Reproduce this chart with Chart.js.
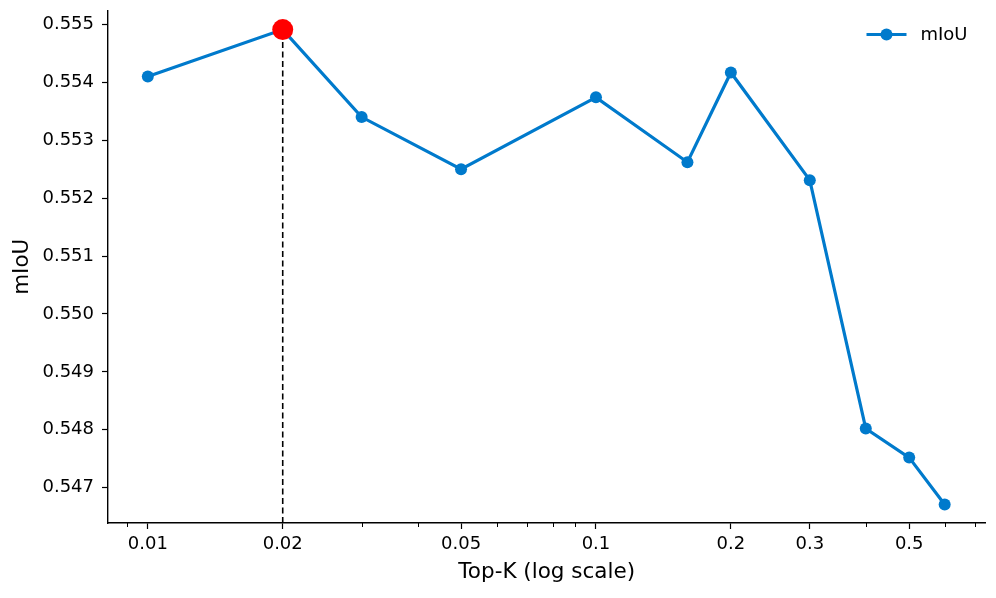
<!DOCTYPE html>
<html>
<head>
<meta charset="utf-8">
<script src="https://cdn.jsdelivr.net/npm/chart.js@4/dist/chart.umd.min.js"></script>
<style>
  html, body { margin: 0; padding: 0; background: #ffffff; }
  canvas { display: block; }
</style>
</head>
<body>
<canvas id="topkChart" width="996" height="598"></canvas>
<script>

// data
var topK = [0.01, 0.02, 0.03, 0.05, 0.1, 0.16, 0.2, 0.3, 0.4, 0.5, 0.6];
var mIoU = [0.55410, 0.55491, 0.55340, 0.55250, 0.55374, 0.55262, 0.55417, 0.55231, 0.54802, 0.54752, 0.54671];

var xTickLabels = [0.01, 0.02, 0.05, 0.1, 0.2, 0.3, 0.5];
var xMinorTicks = [0.009, 0.03, 0.04, 0.06, 0.07, 0.08, 0.09, 0.4, 0.6, 0.7];
var yTicks = [0.547, 0.548, 0.549, 0.550, 0.551, 0.552, 0.553, 0.554, 0.555];

var xMin = 0.00815, xMax = 0.74;
var yMin = 0.54639, yMax = 0.55524;

var blue = '#007acc';
var fontFamily = "'DejaVu Sans', sans-serif";

function init_chart_topk(){

	if( typeof (Chart) === 'undefined'){ return; }

	var best = 0;
	for (var i = 1; i < mIoU.length; i++) {
		if (mIoU[i] > mIoU[best]) best = i;
	}

	var points = topK.map(function(k, i){ return { x: k, y: mIoU[i] }; });

	var minorTicksPlugin = {
		id: 'minorTicks',
		afterDraw: function(chart){
			var scale = chart.scales.x;
			var ctx = chart.ctx;
			var bottom = chart.chartArea.bottom;
			ctx.save();
			ctx.strokeStyle = '#000000';
			ctx.lineWidth = 1;
			xMinorTicks.forEach(function(v){
				var px = Math.round(scale.getPixelForValue(v)) + 0.5;
				ctx.beginPath();
				ctx.moveTo(px, bottom);
				ctx.lineTo(px, bottom + 4);
				ctx.stroke();
			});
			ctx.restore();
		}
	};

	// matplotlib-like legend in the upper right corner
	var legendPlugin = {
		id: 'cornerLegend',
		afterDraw: function(chart){
			var ds = chart.data.datasets[1];
			var area = chart.chartArea;
			var ctx = chart.ctx;
			var x0 = area.right - 119;
			var y0 = area.top + 24;
			ctx.save();
			ctx.strokeStyle = ds.borderColor;
			ctx.lineWidth = ds.borderWidth;
			ctx.beginPath();
			ctx.moveTo(x0, y0);
			ctx.lineTo(x0 + 40, y0);
			ctx.stroke();
			ctx.fillStyle = ds.pointBackgroundColor;
			ctx.beginPath();
			ctx.arc(x0 + 20, y0, ds.pointRadius, 0, Math.PI * 2);
			ctx.fill();
			ctx.fillStyle = '#000000';
			ctx.font = '18px ' + fontFamily;
			ctx.textAlign = 'left';
			ctx.textBaseline = 'middle';
			ctx.fillText(ds.label, x0 + 54, y0 + 1);
			ctx.restore();
		}
	};

	var settings = {
		type: 'line',
		data: {
			datasets: [
				{
					label: 'best',
					data: [{ x: topK[best], y: mIoU[best] }],
					showLine: false,
					pointRadius: 10.5,
					pointHoverRadius: 10.5,
					pointBackgroundColor: '#ff0000',
					pointBorderWidth: 0,
					order: 0
				},
				{
					label: 'mIoU',
					data: points,
					borderColor: blue,
					backgroundColor: blue,
					borderWidth: 3.2,
					pointRadius: 6,
					pointHoverRadius: 6,
					pointBackgroundColor: blue,
					pointBorderWidth: 0,
					tension: 0,
					order: 1
				},
				{
					label: 'marker',
					data: [{ x: topK[best], y: yMin }, { x: topK[best], y: mIoU[best] }],
					borderColor: '#000000',
					borderWidth: 1.6,
					borderDash: [6, 3.5],
					pointRadius: 0,
					order: 2
				}
			]
		},
		options: {
			responsive: false,
			animation: false,
			layout: { padding: { top: 10, right: 10, left: 0, bottom: 0 } },
			plugins: {
				tooltip: { enabled: false },
				legend: { display: false }
			},
			scales: {
				x: {
					type: 'logarithmic',
					min: xMin,
					max: xMax,
					afterBuildTicks: function(scale){
						scale.ticks = xTickLabels.map(function(v){ return { value: v }; });
					},
					afterFit: function(scale){
						scale.height = 75;
						scale.paddingLeft = 0;
						scale.paddingRight = 0;
					},
					grid: { display: true, drawOnChartArea: false, drawTicks: true, tickLength: 6, tickColor: '#000000', tickWidth: 1.2 },
					border: { display: true, color: '#000000', width: 1.4 },
					ticks: {
						autoSkip: false,
						maxRotation: 0,
						padding: 5,
						color: '#000000',
						font: { family: fontFamily, size: 18 },
						callback: function(value){ return String(value); }
					},
					title: {
						display: true,
						text: 'Top-K (log scale)',
						color: '#000000',
						font: { family: fontFamily, size: 21.5 },
						padding: { top: 0, bottom: 13 }
					}
				},
				y: {
					min: yMin,
					max: yMax,
					afterBuildTicks: function(scale){
						scale.ticks = yTicks.map(function(v){ return { value: v }; });
					},
					afterFit: function(scale){
						scale.width = 108;
						scale.paddingTop = 0;
						scale.paddingBottom = 0;
					},
					grid: { display: true, drawOnChartArea: false, drawTicks: true, tickLength: 6, tickColor: '#000000', tickWidth: 1.2 },
					border: { display: true, color: '#000000', width: 1.4 },
					ticks: {
						padding: 8,
						color: '#000000',
						font: { family: fontFamily, size: 18 },
						callback: function(value){ return Number(value).toFixed(3); }
					},
					title: {
						display: true,
						text: 'mIoU',
						color: '#000000',
						font: { family: fontFamily, size: 21.5 },
						padding: { top: 10, bottom: 0 }
					}
				}
			}
		},
		plugins: [minorTicksPlugin, legendPlugin]
	};

	var chart_element = document.getElementById('topkChart');
	var chart_line = new Chart(chart_element, settings);
}

init_chart_topk();
</script>
</body>
</html>
